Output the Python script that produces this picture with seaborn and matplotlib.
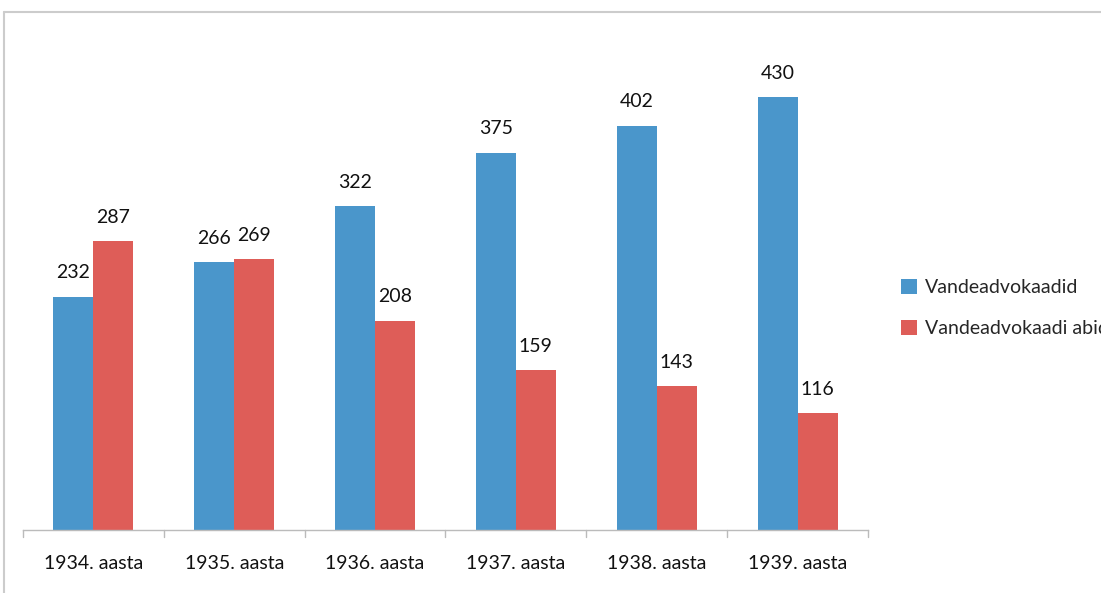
import pandas as pd
import seaborn as sns
import matplotlib.pyplot as plt
from matplotlib.lines import Line2D

# andmed
aastad = ['1934. aasta', '1935. aasta', '1936. aasta', '1937. aasta', '1938. aasta', '1939. aasta']
vandeadvokaadid = [232, 266, 322, 375, 402, 430]
abid = [287, 269, 208, 159, 143, 116]
seeria = ['Vandeadvokaadid', 'Vandeadvokaadi abid']
varvid = ['#4A96CB', '#DE5D58']

df = pd.DataFrame({'aasta': aastad * 2,
                   'arv': vandeadvokaadid + abid,
                   'seeria': [seeria[0]] * len(aastad) + [seeria[1]] * len(aastad)})

sns.set_style('white')
plt.rcParams['font.family'] = ['Lato', 'DejaVu Sans']

fig = plt.figure(figsize=(11.01, 5.93), dpi=100)
ax = fig.add_axes([23 / 1101, 63 / 593, 845 / 1101, 503 / 593])

sns.barplot(data=df, x='aasta', y='arv', hue='seeria', palette=varvid,
            width=0.567, ax=ax, saturation=1, edgecolor='none')

for cont in ax.containers:
    ax.bar_label(cont, padding=11, fontsize=14, color='#111111')

ax.set_ylim(0, 500)
ax.set_xlim(-0.5, 5.5)
ax.set_xlabel('')
ax.set_ylabel('')
ax.set_yticks([])
ax.set_xticks(range(len(aastad)))
ax.set_xticklabels(aastad, fontsize=14, color='#111111')
ax.tick_params(axis='x', length=0, pad=18)
# jaotused kategooriate vahel
for i in range(len(aastad) + 1):
    ax.plot([i - 0.5, i - 0.5], [0, -7], color='#BBBBBB', lw=1, clip_on=False)

for s in ['top', 'right', 'left']:
    ax.spines[s].set_visible(False)
ax.spines['bottom'].set_color('#BBBBBB')
ax.spines['bottom'].set_linewidth(1)

leg = ax.legend(loc='upper left', bbox_to_anchor=(870 / 845, 0.515), frameon=False,
                fontsize=14, handlelength=0.85, handleheight=0.85, handletextpad=0.4,
                labelspacing=1.2, borderaxespad=0)

# raam ümber diagrammi
fig.add_artist(Line2D([4 / 1101, 4 / 1101], [0, 1 - 12 / 593], color='#CCCCCC', lw=1.5))
fig.add_artist(Line2D([4 / 1101, 1], [1 - 12 / 593, 1 - 12 / 593], color='#CCCCCC', lw=1.5))

plt.savefig('out.png', dpi=100)
